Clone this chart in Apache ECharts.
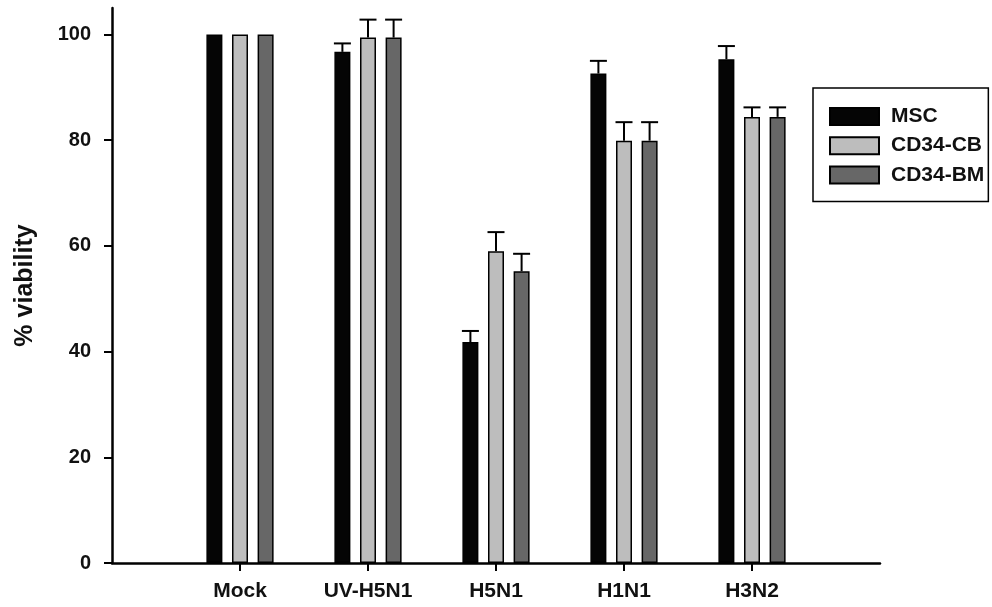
<!DOCTYPE html>
<html>
<head>
<meta charset="utf-8">
<script src="https://cdn.jsdelivr.net/npm/echarts@6/dist/echarts.min.js"></script>
<style>
  html, body { margin: 0; padding: 0; background: #fff; }
  #chart { width: 992px; height: 607px; }
</style>
</head>
<body>
<div id="chart"></div>
<script>
// Cell viability after exposure, mean + SD (upper whisker only)
const categories = ['Mock', 'UV-H5N1', 'H5N1', 'H1N1', 'H3N2'];
const seriesNames = ['MSC', 'CD34-CB', 'CD34-BM'];
const mscValues = [100, 96.7, 41.8, 92.6, 95.3];
const mscErrors = [0, 1.6, 2.1, 2.4, 2.5];
const cbValues  = [100, 99.4, 59.0, 79.9, 84.4];
const cbErrors  = [0, 3.4, 3.6, 3.5, 1.8];
const bmValues  = [100, 99.4, 55.2, 79.9, 84.4];
const bmErrors  = [0, 3.4, 3.3, 3.5, 1.8];
const yTicks = [0, 20, 40, 60, 80, 100];

const FONT = '"Liberation Sans", Arial, sans-serif';
const BAR_W = 16;
const BAR_GAP = 0.6;           // gap between bars, fraction of bar width
const fills = ['#050505', '#bdbdbd', '#676767'];

// empty slots at both ends so the axis runs one band past the outer groups
const axisCats = [''].concat(categories, ['']);
const pad = arr => [null].concat(arr, [null]);

const valueSets = [mscValues, cbValues, bmValues];
const errorSets = [mscErrors, cbErrors, bmErrors];

const barSeries = seriesNames.map((name, i) => ({
  name: name,
  type: 'bar',
  barWidth: BAR_W,
  barGap: (BAR_GAP * 100) + '%',
  data: pad(valueSets[i]),
  itemStyle: { color: fills[i], borderColor: '#000', borderWidth: 1.5 },
  z: 2
}));

// upper error whiskers, shifted to the centre of each bar in the group
const errorSeries = seriesNames.map((name, i) => {
  const pitch = BAR_W * (1 + BAR_GAP);
  const shift = (i - 1) * pitch;
  const data = [];
  valueSets[i].forEach((v, k) => {
    if (errorSets[i][k] > 0) data.push([k + 1, v, v + errorSets[i][k]]);
  });
  return {
    type: 'custom',
    name: name + ' SD',
    z: 3,
    silent: true,
    data: data,
    renderItem: function (params, api) {
      const base = api.coord([api.value(0), api.value(1)]);
      const top = api.coord([api.value(0), api.value(2)]);
      const x = base[0] + shift;
      const half = BAR_W / 2 + 0.5;
      const style = { stroke: '#000', lineWidth: 2, fill: null };
      return {
        type: 'group',
        children: [
          { type: 'line', shape: { x1: x, y1: base[1], x2: x, y2: top[1] }, style: style },
          { type: 'line', shape: { x1: x - half, y1: top[1], x2: x + half, y2: top[1] }, style: style }
        ]
      };
    }
  };
});

const chart = echarts.init(document.getElementById('chart'), null, { renderer: 'canvas' });
chart.setOption({
  animation: false,
  backgroundColor: '#ffffff',
  grid: { left: 112, right: 112, top: 8, bottom: 44, containLabel: false },
  legend: {
    data: seriesNames,
    orient: 'vertical',
    left: 813,
    top: 88,
    itemWidth: 49,
    itemHeight: 17,
    itemGap: 8.2,
    padding: [18, 4, 16, 16],
    borderColor: '#000',
    borderWidth: 1.5,
    icon: 'rect',
    selectedMode: false,
    textStyle: {
      fontFamily: FONT, fontWeight: 'bold', fontSize: 21, color: '#111',
      lineHeight: 17, padding: [0, 0, 0, 7]
    }
  },
  xAxis: {
    type: 'category',
    data: axisCats,
    boundaryGap: false,
    axisLine: { lineStyle: { color: '#000', width: 2.5 } },
    axisTick: {
      show: true, length: 8, inside: false,
      interval: function (idx) { return idx > 0 && idx < axisCats.length - 1; },
      lineStyle: { color: '#000', width: 2 }
    },
    axisLabel: {
      interval: 0, margin: 18,
      fontFamily: FONT, fontWeight: 'bold', fontSize: 21, color: '#111'
    },
    splitLine: { show: false }
  },
  yAxis: {
    type: 'value',
    min: 0,
    max: 105,
    name: '% viability',
    nameLocation: 'middle',
    nameGap: 74,
    nameRotate: 90,
    nameTextStyle: { fontFamily: FONT, fontWeight: 'bold', fontSize: 25, color: '#111' },
    axisLine: { show: true, lineStyle: { color: '#000', width: 2.5 } },
    axisTick: { show: true, length: 8, customValues: yTicks, lineStyle: { color: '#000', width: 2 } },
    axisLabel: {
      customValues: yTicks, margin: 21,
      fontFamily: FONT, fontWeight: 'bold', fontSize: 20, color: '#111'
    },
    splitLine: { show: false }
  },
  series: barSeries.concat(errorSeries)
});
</script>
</body>
</html>
